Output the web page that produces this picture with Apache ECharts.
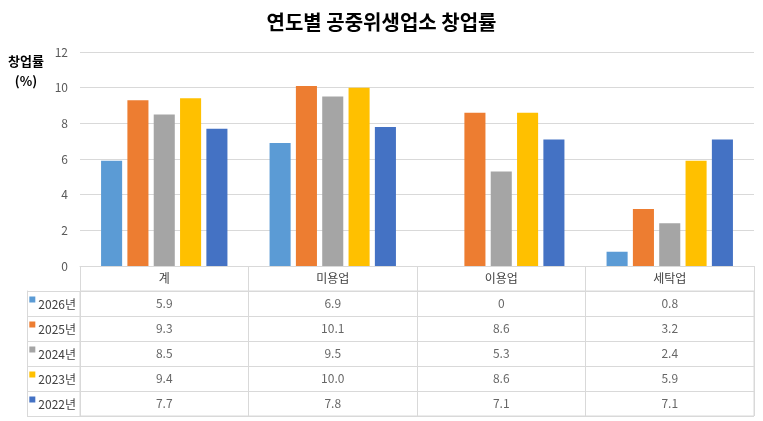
<!DOCTYPE html>
<html>
<head>
<meta charset="utf-8">
<script src="https://cdn.jsdelivr.net/npm/echarts@6/dist/echarts.min.js"></script>
<style>
  html, body { margin: 0; padding: 0; background: #fff; }
  #main { width: 763px; height: 421px; }
</style>
</head>
<body>
<div id="main"></div>
<script>
// 데이터
var categories = ['계', '미용업', '이용업', '세탁업']
var seriesNames = ['2026년', '2025년', '2024년', '2023년', '2022년']
var v2026 = [5.9, 6.9, 0, 0.8]
var v2025 = [9.3, 10.1, 8.6, 3.2]
var v2024 = [8.5, 9.5, 5.3, 2.4]
var v2023 = [9.4, 10.0, 8.6, 5.9]
var v2022 = [7.7, 7.8, 7.1, 7.1]
var yTicks = [0, 2, 4, 6, 8, 10, 12]

var values = [v2026, v2025, v2024, v2023, v2022]
var colors = ['#5B9BD5', '#ED7D31', '#A5A5A5', '#FFC000', '#4472C4']
var lineColor = '#d9d9d9'
var font = '"Malgun Gothic", "Noto Sans CJK KR", sans-serif'

function fmt (v) {
  return v === 0 ? '0' : v.toFixed(1)
}

// 범례 칸 라벨 (색 사각형 + 연도)
var rich = {}
seriesNames.forEach(function (n, i) {
  rich['s' + i] = { width: 6, height: 6, backgroundColor: colors[i], verticalAlign: 'top' }
})
rich.t = { fontSize: 12, color: '#404040', fontFamily: font, padding: [2, 0, 0, 3] }

// 표 셀 값
var cellData = []
values.forEach(function (arr, r) {
  arr.forEach(function (v, c) {
    cellData.push([c, r, v])
  })
})

var series = seriesNames.map(function (n, i) {
  return {
    name: n,
    type: 'bar',
    xAxisIndex: 0,
    yAxisIndex: 0,
    barGap: '25%',
    barCategoryGap: '25%',
    itemStyle: { color: colors[i] },
    data: values[i]
  }
})
series.push({
  type: 'scatter',
  xAxisIndex: 1,
  yAxisIndex: 1,
  symbolSize: 0,
  silent: true,
  label: {
    show: true,
    position: 'inside',
    color: '#404040',
    fontSize: 12,
    fontFamily: font,
    formatter: function (p) { return fmt(p.value[2]) }
  },
  data: cellData
})

var myChart = echarts.init(document.getElementById('main'))
myChart.setOption({
  animation: false,
  title: [{
    text: '연도별 공중위생업소 창업률',
    left: 'center',
    top: 7,
    textStyle: { fontSize: 20, fontWeight: 'bold', color: '#000', fontFamily: font }
  }, {
    text: '창업률\n(%)',
    left: 21,
    top: 46,
    textAlign: 'center',
    textStyle: { fontSize: 13, fontWeight: 'bold', color: '#000', lineHeight: 20, fontFamily: font }
  }],
  grid: [
    { left: 80, right: 9, top: 52, height: 214 },
    { left: 80, right: 9, top: 291, height: 125, show: true, borderColor: lineColor, borderWidth: 1 }
  ],
  xAxis: [{
    gridIndex: 0,
    type: 'category',
    data: categories,
    axisLine: { lineStyle: { color: lineColor } },
    axisTick: { show: true, length: 25, lineStyle: { color: lineColor } },
    axisLabel: { color: '#404040', fontSize: 12, fontFamily: font, margin: 6 }
  }, {
    gridIndex: 1,
    type: 'category',
    data: categories,
    axisLine: { show: false },
    axisTick: { show: false },
    axisLabel: { show: false },
    splitLine: { show: true, lineStyle: { color: lineColor } }
  }],
  yAxis: [{
    gridIndex: 0,
    type: 'value',
    min: yTicks[0],
    max: yTicks[yTicks.length - 1],
    interval: 2,
    axisLine: { show: false },
    axisTick: { show: false },
    axisLabel: { color: '#595959', fontSize: 12, fontFamily: font, margin: 12 },
    splitLine: { lineStyle: { color: lineColor } }
  }, {
    gridIndex: 1,
    type: 'category',
    inverse: true,
    data: seriesNames,
    axisLine: { show: true, lineStyle: { color: lineColor } },
    axisTick: { show: true, length: 53, lineStyle: { color: lineColor } },
    axisLabel: {
      margin: 4,
      formatter: function (v, i) { return '{s' + i + '|}{t|' + v + '}' },
      rich: rich
    },
    splitLine: { show: true, lineStyle: { color: lineColor } }
  }, {
    gridIndex: 1,
    type: 'category',
    data: seriesNames,
    position: 'left',
    offset: 53,
    axisLine: { show: true, lineStyle: { color: lineColor } },
    axisTick: { show: false },
    axisLabel: { show: false },
    splitLine: { show: false }
  }],
  series: series
}, true)
</script>
</body>
</html>
